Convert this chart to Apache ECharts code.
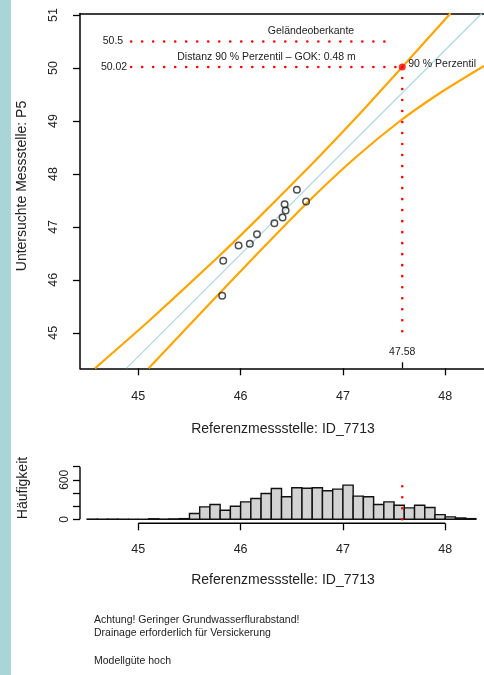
<!DOCTYPE html>
<html><head><meta charset="utf-8">
<script src="https://cdn.jsdelivr.net/npm/echarts@6/dist/echarts.min.js"></script>
<style>html,body{margin:0;padding:0;background:#fff;}#c{width:484px;height:675px;}</style>
</head><body><div id="c"></div>
<script>
// ---- data ----
const pointsX = [45.83, 45.82, 45.98, 46.09, 46.16, 46.33, 46.41, 46.44, 46.43, 46.55, 46.64];
const pointsY = [46.36, 45.70, 46.65, 46.68, 46.86, 47.07, 47.18, 47.31, 47.43, 47.70, 47.48];
const fitLine = [[44.886, 44.334], [48.357, 51.03]];
const upperBand = [[44.577, 44.33], [45.114, 45.241], [45.759, 46.393], [46.189, 47.199], [46.659, 48.111],
  [47.137, 49.079], [47.58, 50.02], [48.053, 51.034]];
const lowerBand = [[45.101, 44.33], [45.759, 45.677], [46.189, 46.545], [46.678, 47.508], [47.118, 48.301],
  [47.558, 49.00], [47.949, 49.529], [48.379, 50.039]];
const gokLevel = 50.5;
const p90X = 47.58;
const p90Y = 50.02;
const dotLineStartX = 44.93;
const gokLineEndX = 47.5;
const vertLineEndY = 44.87;
const histLineTop = 650;
const histStart = 44.5;
const binWidth = 0.1;
const histCounts = [3, 2, 3, 2, 0, 1, 8, 3, 6, 10,
  87, 189, 224, 138, 199, 265, 316, 393, 469, 342,
  479, 472, 479, 434, 459, 520, 352, 342, 224, 265,
  214, 173, 214, 179, 71, 36, 20, 10];
const xTicks = [45, 46, 47, 48];
const yTicks = [45, 46, 47, 48, 49, 50, 51];
const histYTicks = [0, 200, 400, 600, 800];
const histYLabels = [0, 600];
const xRange = [44.43, 48.379];
const yRange = [44.33, 51.03];
const histYRange = [-61, 800];

const FONT = 'Liberation Sans, Arial, sans-serif';
const chart = echarts.init(document.getElementById('c'), null, {renderer: 'canvas'});

const histData = histCounts.map((c, i) => [histStart + i * binWidth, histStart + (i + 1) * binWidth, c]);
const dotStyle = {color: '#ff0000', width: 2.6, type: [0.01, 11], cap: 'round'};
const boxLine = {show: true, onZero: false, lineStyle: {color: '#000', width: 1.5}};

const option = {
  animation: false,
  backgroundColor: '#ffffff',
  grid: [
    {left: 80, top: 13.5, right: 0, height: 354.8, show: false},
    {left: 80, top: 466.7, right: 0, height: 56.6, show: false}
  ],
  xAxis: [
    {type: 'value', gridIndex: 0, min: xRange[0], max: xRange[1], position: 'bottom',
     axisLine: boxLine, splitLine: {show: false},
     axisTick: {show: true, customValues: xTicks, length: 7, lineStyle: {color: '#000', width: 1.3}},
     axisLabel: {customValues: xTicks, fontSize: 12.5, color: '#222', fontFamily: FONT, margin: 22}},
    {type: 'value', gridIndex: 0, min: xRange[0], max: xRange[1], position: 'bottom',
     axisLine: {show: false, onZero: false}, splitLine: {show: false},
     axisTick: {show: true, customValues: [p90X], inside: true, length: 6, lineStyle: {color: '#000', width: 1.3}},
     axisLabel: {show: false}},
    {type: 'value', gridIndex: 1, min: xRange[0], max: xRange[1], position: 'bottom',
     axisLine: {show: false, onZero: false}, splitLine: {show: false},
     axisTick: {show: true, customValues: xTicks, length: 7, lineStyle: {color: '#000', width: 1.3}},
     axisLabel: {customValues: xTicks, fontSize: 12.5, color: '#222', fontFamily: FONT, margin: 20}},
    {type: 'value', gridIndex: 0, min: xRange[0], max: xRange[1], position: 'top',
     axisLine: boxLine, splitLine: {show: false}, axisTick: {show: false}, axisLabel: {show: false}}
  ],
  yAxis: [
    {type: 'value', gridIndex: 0, min: yRange[0], max: yRange[1],
     axisLine: boxLine, splitLine: {show: false},
     axisTick: {show: true, customValues: yTicks, length: 7, lineStyle: {color: '#000', width: 1.3}},
     axisLabel: {customValues: yTicks, rotate: 90, fontSize: 12.5, color: '#222', fontFamily: FONT, margin: 20}},
    {type: 'value', gridIndex: 1, min: histYRange[0], max: histYRange[1],
     axisLine: {show: false, onZero: false}, splitLine: {show: false},
     axisTick: {show: true, customValues: histYTicks, length: 7, lineStyle: {color: '#000', width: 1.3}},
     axisLabel: {customValues: histYLabels, rotate: 90, fontSize: 12, color: '#222', fontFamily: FONT, margin: 9}}
  ],
  series: [
    {type: 'line', xAxisIndex: 0, yAxisIndex: 0, data: fitLine, symbol: 'none', lineStyle: {color: '#add8e6', width: 1.2}, z: 2},
    {type: 'line', xAxisIndex: 0, yAxisIndex: 0, data: upperBand, symbol: 'none', smooth: 0.2, lineStyle: {color: '#ffa500', width: 2.2}, z: 3},
    {type: 'line', xAxisIndex: 0, yAxisIndex: 0, data: lowerBand, symbol: 'none', smooth: 0.2, lineStyle: {color: '#ffa500', width: 2.2}, z: 3},
    {type: 'line', xAxisIndex: 0, yAxisIndex: 0, data: [[dotLineStartX, gokLevel], [gokLineEndX, gokLevel]], symbol: 'none', lineStyle: dotStyle, z: 4},
    {type: 'line', xAxisIndex: 0, yAxisIndex: 0, data: [[dotLineStartX, p90Y], [p90X, p90Y]], symbol: 'none', lineStyle: dotStyle, z: 4},
    {type: 'line', xAxisIndex: 0, yAxisIndex: 0, data: [[p90X, p90Y], [p90X, vertLineEndY]], symbol: 'none', lineStyle: dotStyle, z: 4},
    {type: 'scatter', xAxisIndex: 0, yAxisIndex: 0, data: pointsX.map((x, i) => [x, pointsY[i]]), symbol: 'circle', symbolSize: 6.5,
     itemStyle: {color: 'rgba(0,0,0,0)', borderColor: '#222', borderWidth: 1.5}, z: 5},
    {type: 'scatter', xAxisIndex: 0, yAxisIndex: 0, data: [[p90X, p90Y]], symbol: 'circle', symbolSize: 7,
     itemStyle: {color: '#ff0000'}, z: 6},
    {type: 'custom', xAxisIndex: 2, yAxisIndex: 1, data: histData, encode: {x: [0, 1], y: 2},
     renderItem: function (params, api) {
       const p0 = api.coord([api.value(0), 0]);
       const p1 = api.coord([api.value(1), api.value(2)]);
       return {type: 'rect', shape: {x: p0[0], y: p1[1], width: p1[0] - p0[0], height: p0[1] - p1[1]},
               style: {fill: '#d3d3d3', stroke: '#111', lineWidth: 1.4}};
     }, z: 2},
    {type: 'line', xAxisIndex: 2, yAxisIndex: 1, data: [[p90X, 0], [p90X, histLineTop]], symbol: 'none', lineStyle: dotStyle, z: 4}
  ]
};
chart.setOption(option);

function px(finder, v) { return chart.convertToPixel(finder, v); }
const hx45 = px({xAxisIndex: 2, yAxisIndex: 1}, [45, histYRange[0]]);
const hx48 = px({xAxisIndex: 2, yAxisIndex: 1}, [48, histYRange[0]]);
const hy0 = px({xAxisIndex: 2, yAxisIndex: 1}, [xRange[0], 0]);
const hy800 = px({xAxisIndex: 2, yAxisIndex: 1}, [xRange[0], 800]);
const p90Pix = px({xAxisIndex: 0, yAxisIndex: 0}, [p90X, p90Y]);
const gokPix = px({xAxisIndex: 0, yAxisIndex: 0}, [dotLineStartX, gokLevel]);
const p90LeftPix = px({xAxisIndex: 0, yAxisIndex: 0}, [dotLineStartX, p90Y]);
const vertEnd = px({xAxisIndex: 0, yAxisIndex: 0}, [p90X, vertLineEndY]);

function txt(text, x, y, size, align, opts) {
  return Object.assign({type: 'text', x: x, y: y, z: 20,
    style: {text: text, fontSize: size, fontFamily: FONT, fill: '#222', align: align || 'center', verticalAlign: 'middle'}}, opts || {});
}

chart.setOption({
  graphic: [
    {type: 'rect', shape: {x: 0, y: 0, width: 11, height: 675}, style: {fill: '#a9d4d8'}, z: 0},
    {type: 'line', shape: {x1: hx45[0], y1: hx45[1], x2: hx48[0], y2: hx48[1]}, style: {stroke: '#000', lineWidth: 1.4}, z: 20},
    {type: 'line', shape: {x1: hy0[0], y1: hy0[1], x2: hy800[0], y2: hy800[1]}, style: {stroke: '#000', lineWidth: 1.4}, z: 20},
    txt('Geländeoberkante', 311, 31.5, 10.5),
    txt('Distanz 90 % Perzentil \u2013 GOK: 0.48 m', 266.5, 57, 10.5),
    txt('90 % Perzentil', p90Pix[0] + 6, p90Pix[1] - 3, 10.5, 'left'),
    txt(String(gokLevel), gokPix[0] - 8, gokPix[1], 10.5, 'right'),
    txt(String(p90Y), p90LeftPix[0] - 4, p90LeftPix[1], 10.5, 'right'),
    txt(String(p90X), vertEnd[0], vertEnd[1] + 12, 10.5),
    txt('Untersuchte Messstelle: P5', 22, 186, 14, 'center', {rotation: Math.PI / 2}),
    txt('Referenzmessstelle: ID_7713', 283, 429, 14),
    txt('Häufigkeit', 23, 488, 14, 'center', {rotation: Math.PI / 2}),
    txt('Referenzmessstelle: ID_7713', 283, 580, 14),
    txt('Achtung! Geringer Grundwasserflurabstand!', 94, 620, 10.5, 'left'),
    txt('Drainage erforderlich für Versickerung', 94, 633, 10.5, 'left'),
    txt('Modellgüte hoch', 94, 661, 10.5, 'left')
  ]
});
</script></body></html>
